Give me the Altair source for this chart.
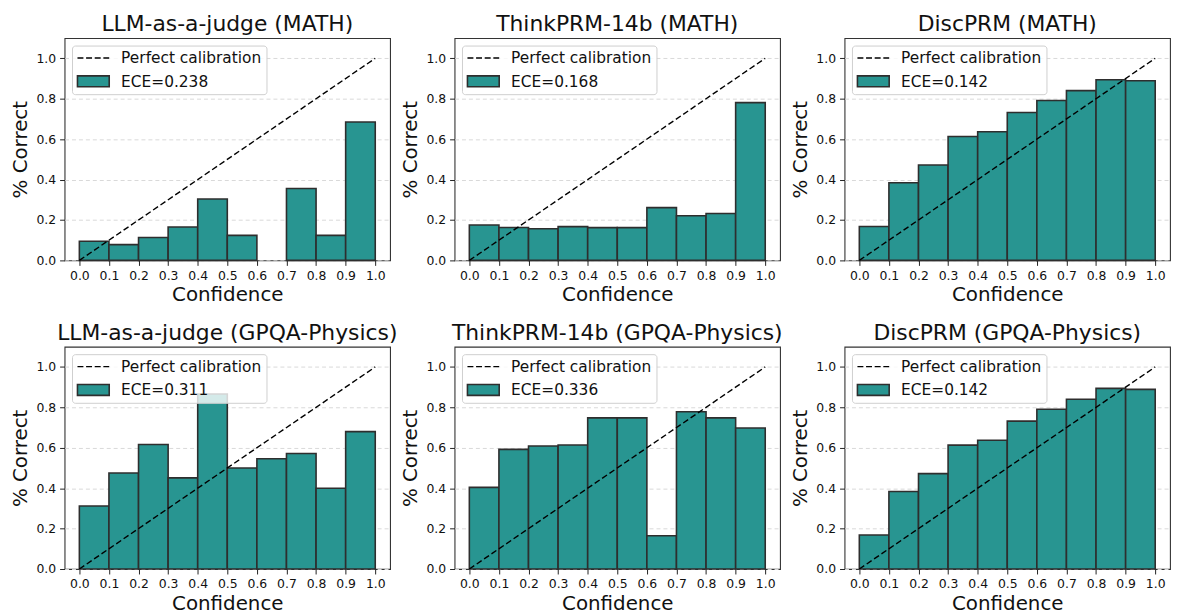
import altair as alt
import pandas as pd

# ---------------- data ----------------
bin_lo = [0.0, 0.1, 0.2, 0.3, 0.4, 0.5, 0.6, 0.7, 0.8, 0.9]
bin_hi = [0.1, 0.2, 0.3, 0.4, 0.5, 0.6, 0.7, 0.8, 0.9, 1.0]

panel_titles = [
    "LLM-as-a-judge (MATH)", "ThinkPRM-14b (MATH)", "DiscPRM (MATH)",
    "LLM-as-a-judge (GPQA-Physics)", "ThinkPRM-14b (GPQA-Physics)", "DiscPRM (GPQA-Physics)",
]
ece_values = [0.238, 0.168, 0.142, 0.311, 0.336, 0.142]

acc_llm_math = [0.095, 0.078, 0.113, 0.165, 0.304, 0.124, 0.0, 0.356, 0.124, 0.685]
acc_think_math = [0.175, 0.163, 0.157, 0.167, 0.162, 0.162, 0.261, 0.221, 0.232, 0.781]
acc_disc_math = [0.168, 0.384, 0.472, 0.613, 0.637, 0.732, 0.791, 0.840, 0.894, 0.889]
acc_llm_gpqa = [0.312, 0.475, 0.616, 0.451, 0.866, 0.500, 0.546, 0.572, 0.400, 0.680]
acc_think_gpqa = [0.404, 0.592, 0.609, 0.614, 0.748, 0.748, 0.165, 0.778, 0.748, 0.698]
acc_disc_gpqa = [0.168, 0.384, 0.472, 0.613, 0.637, 0.732, 0.791, 0.840, 0.894, 0.889]

diag_x = [0.0, 1.0]
diag_y = [0.0, 1.0]
x_ticks = [0.0, 0.1, 0.2, 0.3, 0.4, 0.5, 0.6, 0.7, 0.8, 0.9, 1.0]
y_ticks = [0.0, 0.2, 0.4, 0.6, 0.8, 1.0]
line_label = "Perfect calibration"

all_acc = [acc_llm_math, acc_think_math, acc_disc_math,
           acc_llm_gpqa, acc_think_gpqa, acc_disc_gpqa]

# ---------------- style ----------------
FONT = "DejaVu Sans"
W, H = 328, 224
BAR_FILL = "#289591"
BAR_EDGE = "#2e2e2e"


def panel(title, acc, ece):
    bars_df = pd.DataFrame({"x": bin_lo, "x2": bin_hi, "y": acc})
    bars_df = bars_df[bars_df["y"] > 0]
    diag_df = pd.DataFrame({"x": diag_x, "y": diag_y})

    xenc = alt.X("x:Q",
                 scale=alt.Scale(domain=[-0.05, 1.05], nice=False, zero=False),
                 axis=alt.Axis(values=x_ticks, format=".1f", title="Confidence",
                               grid=False, labelPadding=4, titlePadding=3))
    yenc = alt.Y("y:Q",
                 scale=alt.Scale(domain=[0, 1.1], nice=False),
                 axis=alt.Axis(values=y_ticks, format=".1f", title="% Correct",
                               grid=True, gridDash=[4, 3], gridColor="#d9d9d9",
                               labelPadding=4, titlePadding=5))

    bars = alt.Chart(bars_df).mark_rect(
        fill=BAR_FILL, stroke=BAR_EDGE, strokeWidth=1.6
    ).encode(x=xenc, x2="x2:Q", y=yenc, y2=alt.datum(0))

    diag = alt.Chart(diag_df).mark_line(
        color="black", strokeDash=[6, 3], strokeWidth=1.4
    ).encode(x=xenc, y=yenc)

    one = pd.DataFrame({"label": [line_label], "ece": [f"ECE={ece:.3f}"]})
    box = alt.Chart(one).mark_rect(
        fill="white", fillOpacity=0.8, stroke="#cfcfcf", strokeWidth=1, cornerRadius=3
    ).encode(x=alt.value(8), x2=alt.value(204), y=alt.value(8), y2=alt.value(57))
    dash = alt.Chart(one).mark_rule(
        color="black", strokeDash=[6, 2.7], strokeWidth=1.4
    ).encode(x=alt.value(13), x2=alt.value(45), y=alt.value(20))
    swatch = alt.Chart(one).mark_rect(
        fill=BAR_FILL, stroke=BAR_EDGE, strokeWidth=1.6
    ).encode(x=alt.value(13), x2=alt.value(45), y=alt.value(38), y2=alt.value(49))
    t1 = alt.Chart(one).mark_text(
        align="left", baseline="middle", font=FONT, fontSize=15.5, color="#111"
    ).encode(x=alt.value(57), y=alt.value(20), text="label:N")
    t2 = alt.Chart(one).mark_text(
        align="left", baseline="middle", font=FONT, fontSize=15.5, color="#111"
    ).encode(x=alt.value(57), y=alt.value(44), text="ece:N")

    return alt.layer(bars, diag, box, dash, swatch, t1, t2).properties(
        width=W, height=H,
        title=alt.TitleParams(title, offset=2),
    )


panels = [panel(t, a, e) for t, a, e in zip(panel_titles, all_acc, ece_values)]

chart = alt.concat(
    *panels, columns=3,
    spacing={"row": 87, "column": 65},
    bounds="flush",
).properties(
    padding={"left": 2, "top": 2, "right": 0, "bottom": 0},
).configure_view(
    stroke="#333333", strokeWidth=1.1
).configure_axis(
    labelFont=FONT, labelFontSize=12.5, labelColor="#111",
    titleFont=FONT, titleFontSize=20, titleFontWeight="normal", titleColor="#111",
    domain=False, tickColor="#222", tickSize=5, tickWidth=1,
).configure_title(
    font=FONT, fontSize=22, fontWeight="normal", color="#111", anchor="middle",
)

chart.save("out.html", embed_options={"renderer": "svg", "actions": False})
